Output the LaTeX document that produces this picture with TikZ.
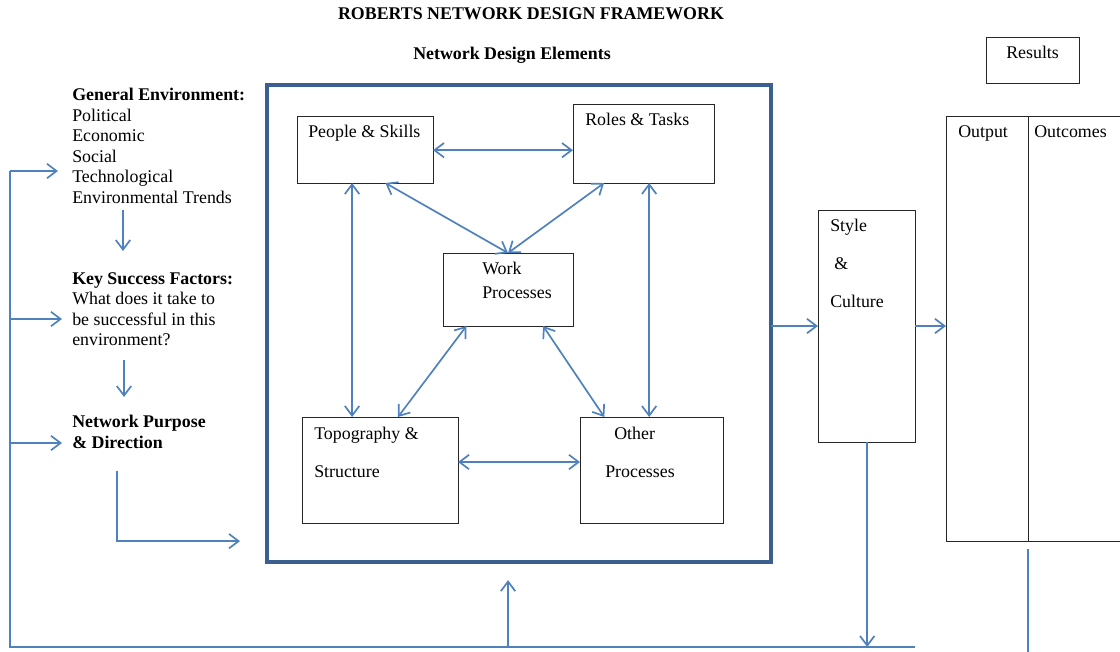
\documentclass[tikz,border=0pt]{standalone}
\usepackage{fontspec}
\setmainfont{Liberation Serif}
\usetikzlibrary{arrows.meta, positioning, calc}
\definecolor{linkblue}{HTML}{4F81BD}
\definecolor{frameblue}{HTML}{3B5F8E}

\begin{document}
\begin{tikzpicture}[x=0.025cm, y=-0.025cm,
        every node/.style={font=\fontsize{12.7}{14.6}\selectfont},
        box/.style={draw=black!85, line width=0.6pt, anchor=north west, inner sep=0pt, outer sep=0pt},
        outerframe/.style={draw=frameblue, line width=2.8pt, anchor=north west, inner sep=0pt, outer sep=0pt},
        txt/.style={anchor=north west, inner sep=0pt, align=left},
        wide/.style={font=\fontsize{12.7}{27}\selectfont},
        link/.style={<->, linkblue, line width=1.2pt},
        arr/.style={->, linkblue, line width=1.2pt},
        feed/.style={linkblue, line width=1.2pt},
        >={Straight Barb[length=0.24cm, width=0.36cm]}
    ]
        \useasboundingbox (0,0) rectangle (1120,652);

        % titles
        \node[font=\fontsize{12.7}{14.6}\selectfont\bfseries, anchor=base] (title) at (531,19) {ROBERTS NETWORK DESIGN FRAMEWORK};
        \node[font=\fontsize{12.7}{14.6}\selectfont\bfseries, anchor=base] (subtitle) at (512,59) {Network Design Elements};

        % environment column
        \node[txt] (gen) at (72,88) {\textbf{General Environment:}\\Political\\Economic\\Social\\Technological\\Environmental Trends};
        \node[txt] (ksf) at (72,272) {\textbf{Key Success Factors:}\\What does it take to\\be successful in this\\environment?};
        \node[txt] (npd) at (72,415) {\textbf{Network Purpose}\\\textbf{\& Direction}};

        % design elements
        \node[outerframe, minimum width=12.6cm, minimum height=11.925cm] (frame) at (267,85) {};
        \node[box, minimum width=3.4cm, minimum height=1.675cm] (people) at (297,116) {};
        \node[box, minimum width=3.525cm, minimum height=1.975cm] (roles) at (573,104) {};
        \node[box, minimum width=3.25cm, minimum height=1.825cm] (work) at (443,253) {};
        \node[box, minimum width=3.9cm, minimum height=2.65cm] (topo) at (302,417) {};
        \node[box, minimum width=3.575cm, minimum height=2.65cm] (other) at (580,417) {};

        % style and results
        \node[box, minimum width=2.425cm, minimum height=5.8cm] (style) at (818,210) {};
        \node[box, minimum width=2.05cm, minimum height=10.625cm] (output) at (946,116) {};
        \node[box, minimum width=2.4cm, minimum height=10.625cm] (outcomes) at (1028,116) {};
        \node[box, minimum width=2.325cm, minimum height=1.15cm] (results) at (986,37) {};

        % box texts
        \node[txt, below right=0.225cm and 0.275cm of people.north west] (peopletxt) {People \& Skills};
        \node[txt, below right=0.225cm and 0.3cm of roles.north west] (rolestxt) {Roles \& Tasks};
        \node[txt, below right=0.225cm and 0.975cm of work.north west, font=\fontsize{12.7}{17}\selectfont] (worktxt) {Work\\Processes};
        \node[txt, wide, below right=0.25cm and 0.3cm of topo.north west] (topotxt) {Topography \&\\Structure};
        \node[txt, wide, below right=0.25cm and 0.625cm of other.north west] (othertxt) {\hspace*{0.225cm}Other\\Processes};
        \node[txt, wide, below right=0.225cm and 0.3cm of style.north west] (styletxt) {Style\\\hspace*{0.1cm}\&\\Culture};
        \node[txt, below right=0.225cm and 0.3cm of output.north west] (outputtxt) {Output};
        \node[txt, below right=0.225cm and 0.15cm of outcomes.north west] (outcomestxt) {Outcomes};
        \node[txt, below right=0.225cm and 0.5cm of results.north west] (resultstxt) {Results};

        % attachment points
        \coordinate (p1) at ($(people.south west)!0.405!(people.south east)$);
        \coordinate (p2) at ($(people.south west)!0.65!(people.south east)$);
        \coordinate (r1) at ($(roles.south west)!0.22!(roles.south east)$);
        \coordinate (r2) at ($(roles.south west)!0.54!(roles.south east)$);
        \coordinate (w1) at ($(work.south west)!0.18!(work.south east)$);
        \coordinate (w2) at ($(work.south west)!0.77!(work.south east)$);
        \coordinate (t1) at ($(topo.north west)!0.615!(topo.north east)$);
        \coordinate (o1) at ($(other.north west)!0.17!(other.north east)$);

        \draw[link] ([yshift=-0.5pt]people.east) -- ([yshift=-0.5pt]people.east -| roles.west);
        \draw[link] (p1) -- (p1 |- topo.north);
        \draw[link] (p2) -- (work.north);
        \draw[link] (r1) -- (work.north);
        \draw[link] (r2) -- (r2 |- other.north);
        \draw[link] (w1) -- (t1);
        \draw[link] (w2) -- (o1);
        \draw[link] ([yshift=0.2cm]topo.east) -- ([yshift=0.2cm]topo.east -| other.west);

        % environment flow
        \draw[arr] ([xshift=1.275cm, yshift=-0.15cm]gen.south west) -- ([xshift=1.275cm, yshift=0.525cm]ksf.north west);
        \draw[arr] ([xshift=1.3cm, yshift=-0.35cm]ksf.south west) -- ([xshift=1.3cm, yshift=0.45cm]npd.north west);
        \draw[arr] ([xshift=1.125cm, yshift=-0.55cm]npd.south west) |- ($(frame.south west)+(-27,-21)$);

        % flow to results
        \draw[arr] (frame.east |- style.west) -- (style.west);
        \draw[arr] (style.east) -- (style.east -| output.west);

        % feedback loop
        \coordinate (loopbl) at (10,647);
        \coordinate (loopbr) at (915,647);
        \coordinate (fb1) at (10,171);
        \coordinate (fb2) at (10,319);
        \coordinate (fb3) at (10,443);
        \draw[feed] (loopbr) -- (loopbl) -- (fb1);
        \draw[arr] (fb1) -- ($(fb1 -| gen.west)+(-14,0)$);
        \draw[arr] (fb2) -- ($(fb2 -| ksf.west)+(-10,0)$);
        \draw[arr] (fb3) -- ($(fb3 -| npd.west)+(-10,0)$);
        \draw[arr] (loopbl -| 508,0) -- ($(frame.south)+(-11,18)$);
        \draw[arr] ([xshift=0.5pt]style.south) -- ([xshift=0.5pt]style.south |- loopbl);
        \draw[feed] ([yshift=-0.2cm]outcomes.south west) -- (outcomes.south west |- 0,652);
    \end{tikzpicture}
\end{document}
